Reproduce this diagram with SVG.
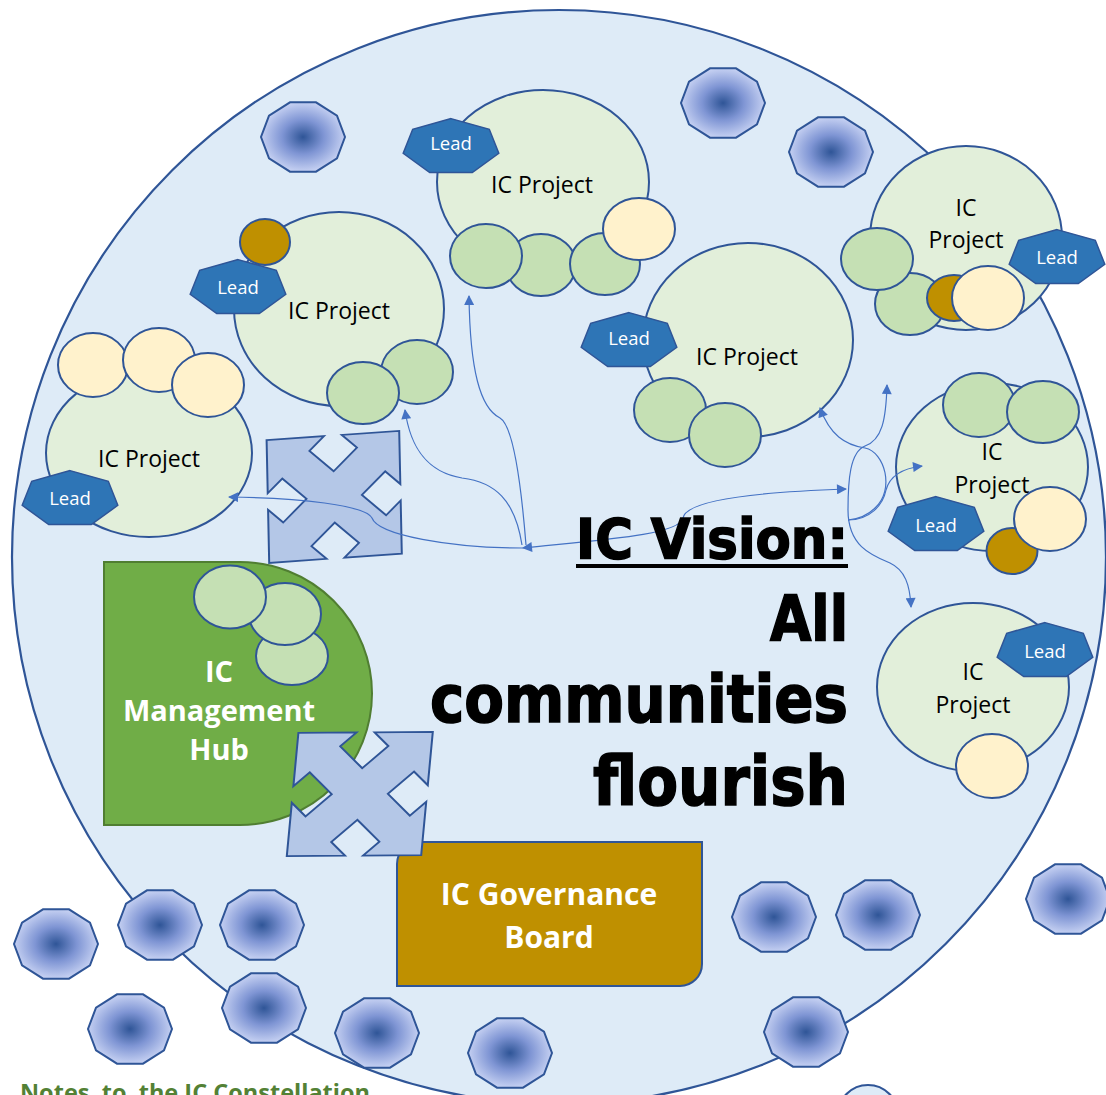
<svg xmlns="http://www.w3.org/2000/svg" xmlns:xlink="http://www.w3.org/1999/xlink" width="1106" height="1095" viewBox="0 0 1106 1095">
<style>
.bg{fill:#DEEBF7;stroke:#2F5597;stroke-width:2.2}
.proj{fill:#E2EFDA;stroke:#2F5597;stroke-width:2}
.grn{fill:#C5E0B4;stroke:#2F5597;stroke-width:2}
.crm{fill:#FFF2CC;stroke:#2F5597;stroke-width:2}
.gold{fill:#BF9000;stroke:#2F5597;stroke-width:2}
.lead{fill:#2E75B6;stroke:#2F5597;stroke-width:1.5}
.deca{fill:url(#rg);stroke:#2F5597;stroke-width:2}
.quad{fill:#B4C7E7;stroke:#2F5597;stroke-width:2}
.conn{fill:none;stroke:#4472C4;stroke-width:1.2}
.ptxt{font-family:"Open Sans","Liberation Sans",sans-serif;font-size:23px;fill:#000;text-anchor:middle}
.ltxt{font-family:"Open Sans","Liberation Sans",sans-serif;font-size:18.5px;fill:#fff;text-anchor:middle}
.btxt{font-family:"Open Sans","Liberation Sans",sans-serif;font-weight:bold;fill:#fff;text-anchor:middle}
.title{font-family:"DejaVu Sans","Liberation Sans",sans-serif;font-weight:bold;fill:#000;stroke:#000;stroke-width:1.6;text-anchor:end}
</style>
<defs>
<radialGradient id="rg" cx="50%" cy="50%" r="55%">
<stop offset="0" stop-color="#2F5597"/>
<stop offset="0.45" stop-color="#7F95D4"/>
<stop offset="1" stop-color="#D3DCF8"/>
</radialGradient>
<polygon id="deca" points="42,0 33.98,21.4 12.98,34.7 -12.98,34.7 -33.98,21.4 -42,0 -33.98,-21.4 -12.98,-34.7 12.98,-34.7 33.98,-21.4"/>
<polygon id="lead" points="0,-28.4 38.3,-17.7 47.8,6.3 21.3,25.6 -21.3,25.6 -47.8,6.3 -38.3,-17.7"/>
<polygon id="quad" points="-67,-67 -9,-67 -24,-52 0,-28 24,-52 9,-67 67,-67 67,-9 52,-24 28,0 52,24 67,9 67,67 9,67 24,52 0,28 -24,52 -9,67 -67,67 -67,9 -52,24 -28,0 -52,-24 -67,-9"/>
<marker id="ah" viewBox="0 0 10 10" refX="9" refY="5" markerWidth="11" markerHeight="10" markerUnits="userSpaceOnUse" orient="auto-start-reverse">
<path d="M0,0 L10,5 L0,10 z" fill="#4472C4"/>
</marker>
</defs>

<rect width="1106" height="1095" fill="#fff"/>
<g id="constellation"><circle class="bg" cx="559" cy="557" r="547"/></g>
<g id="partial-circle"><circle class="bg" cx="868" cy="1115" r="30"/></g>

<g id="stars">
<use href="#deca" class="deca" x="303" y="137"/>
<use href="#deca" class="deca" x="723" y="103"/>
<use href="#deca" class="deca" x="831" y="152"/>
<use href="#deca" class="deca" x="56" y="944"/>
<use href="#deca" class="deca" x="160" y="925"/>
<use href="#deca" class="deca" x="262" y="925"/>
<use href="#deca" class="deca" x="130" y="1029"/>
<use href="#deca" class="deca" x="264" y="1008"/>
<use href="#deca" class="deca" x="377" y="1033"/>
<use href="#deca" class="deca" x="510" y="1053"/>
<use href="#deca" class="deca" x="774" y="917"/>
<use href="#deca" class="deca" x="878" y="915"/>
<use href="#deca" class="deca" x="1068" y="899"/>
<use href="#deca" class="deca" x="806" y="1032"/>
</g>

<g id="project-top">
<ellipse class="proj" cx="543" cy="182" rx="106" ry="92"/>
<text class="ptxt" x="542" y="193">IC Project</text>
<ellipse class="grn" cx="541" cy="265" rx="35" ry="31"/>
<ellipse class="grn" cx="486" cy="256" rx="36" ry="32"/>
<ellipse class="grn" cx="605" cy="264" rx="35" ry="31"/>
<ellipse class="crm" cx="639" cy="229" rx="36" ry="31"/>
<use href="#lead" class="lead" x="451" y="147"/>
<text class="ltxt" x="451" y="150">Lead</text>
</g>

<g id="project-upper-left">
<ellipse class="proj" cx="339" cy="309" rx="105" ry="97"/>
<text class="ptxt" x="339" y="319">IC Project</text>
<ellipse class="gold" cx="265" cy="242" rx="25" ry="23"/>
<use href="#lead" class="lead" x="238" y="288"/>
<text class="ltxt" x="238" y="294">Lead</text>
<ellipse class="grn" cx="417" cy="372" rx="36" ry="32"/>
<ellipse class="grn" cx="363" cy="393" rx="36" ry="31"/>
</g>

<g id="project-left">
<ellipse class="proj" cx="149" cy="453" rx="103" ry="84"/>
<text class="ptxt" x="149" y="467">IC Project</text>
<ellipse class="crm" cx="93" cy="365" rx="35" ry="32"/>
<ellipse class="crm" cx="159" cy="360" rx="36" ry="32"/>
<ellipse class="crm" cx="208" cy="385" rx="36" ry="32"/>
<use href="#lead" class="lead" x="70" y="499"/>
<text class="ltxt" x="70" y="505">Lead</text>
</g>

<g id="project-middle">
<ellipse class="proj" cx="748" cy="340" rx="105" ry="97"/>
<text class="ptxt" x="747" y="365">IC Project</text>
<ellipse class="grn" cx="670" cy="410" rx="36" ry="32"/>
<ellipse class="grn" cx="725" cy="435" rx="36" ry="32"/>
<use href="#lead" class="lead" x="629" y="341"/>
<text class="ltxt" x="629" y="345">Lead</text>
</g>

<g id="project-top-right">
<ellipse class="proj" cx="966" cy="238" rx="96" ry="92"/>
<text class="ptxt" x="966" y="216">IC</text>
<text class="ptxt" x="966" y="248">Project</text>
<ellipse class="grn" cx="910" cy="304" rx="35" ry="31"/>
<ellipse class="grn" cx="877" cy="259" rx="36" ry="31"/>
<ellipse class="gold" cx="954" cy="298" rx="27" ry="23"/>
<use href="#lead" class="lead" x="1057" y="258"/>
<text class="ltxt" x="1057" y="264">Lead</text>
<ellipse class="crm" cx="988" cy="298" rx="36" ry="32"/>
</g>

<g id="project-right">
<ellipse class="proj" cx="992" cy="467" rx="96" ry="84"/>
<ellipse class="grn" cx="979" cy="405" rx="36" ry="32"/>
<ellipse class="grn" cx="1043" cy="412" rx="36" ry="31"/>
<text class="ptxt" x="992" y="460">IC</text>
<text class="ptxt" x="992" y="493">Project</text>
<use href="#lead" class="lead" x="936" y="525"/>
<text class="ltxt" x="936" y="532">Lead</text>
<ellipse class="gold" cx="1012" cy="551" rx="25.5" ry="23"/>
<ellipse class="crm" cx="1050" cy="519" rx="36" ry="32"/>
</g>

<g id="project-bottom-right">
<ellipse class="proj" cx="973" cy="687" rx="96" ry="84"/>
<text class="ptxt" x="973" y="680">IC</text>
<text class="ptxt" x="973" y="713">Project</text>
<use href="#lead" class="lead" x="1045" y="651"/>
<text class="ltxt" x="1045" y="658">Lead</text>
<ellipse class="crm" cx="992" cy="766" rx="36" ry="32"/>
</g>

<g id="management-hub">
<path d="M104,562 H240 A132,131.5 0 0 1 240,825 H104 Z" fill="#70AD47" stroke="#507E32" stroke-width="2"/>
<ellipse class="grn" cx="292" cy="656" rx="36" ry="29"/>
<ellipse class="grn" cx="285" cy="614" rx="36" ry="31"/>
<ellipse class="grn" cx="230" cy="597" rx="36" ry="31.5"/>
<text class="btxt" font-size="29" x="219" y="682">IC</text>
<text class="btxt" font-size="29" x="219" y="721">Management</text>
<text class="btxt" font-size="29" x="219" y="760">Hub</text>
</g>

<g id="governance-board">
<path d="M419,842 H702 V964 A22,22 0 0 1 680,986 H397 V864 A22,22 0 0 1 419,842 Z" fill="#BF9000" stroke="#2F5597" stroke-width="2"/>
<text class="btxt" font-size="30" x="549" y="905">IC Governance</text>
<text class="btxt" font-size="30" x="549" y="948">Board</text>
</g>

<g id="quad-arrow-1">
<use href="#quad" class="quad" vector-effect="non-scaling-stroke" transform="matrix(0.9896,-0.0694,0.0194,0.9157,334.2,496.9)"/>
</g>
<g id="quad-arrow-2">
<use href="#quad" class="quad" vector-effect="non-scaling-stroke" transform="matrix(1.003,-0.0075,-0.0866,0.920,359.8,794)"/>
</g>

<g id="connectors">
<path class="conn" marker-end="url(#ah)" d="M526,545 C520,470 512,425 500,418 C480,408 470,370 469,296"/>
<path class="conn" marker-end="url(#ah)" d="M522,545 C515,500 495,482 462,478 C425,472 410,445 405,410"/>
<path class="conn" marker-start="url(#ah)" d="M229,497 C300,498 365,505 372,518 C378,535 450,548 523,548"/>
<path class="conn" marker-start="url(#ah)" marker-end="url(#ah)" d="M523,548 C600,540 680,535 683,518 C686,500 760,492 846,489"/>
<path class="conn" marker-start="url(#ah)" d="M820,408 C830,435 845,445 865,448 C885,452 895,490 875,508 C868,515 858,519 848,520"/>
<path class="conn" marker-end="url(#ah)" d="M848,520 C870,520 883,505 886,490 C890,475 905,468 922,466"/>
<path class="conn" marker-start="url(#ah)" marker-end="url(#ah)" d="M887,385 C886,420 882,440 865,446 C850,452 848,480 848,510 C848,545 870,555 890,563 C905,570 910,585 911,607"/>
</g>

<g id="vision-title">
<text class="title" x="848" y="558" font-size="56" textLength="272" lengthAdjust="spacingAndGlyphs">IC Vision:</text>
<rect x="576" y="564" width="272" height="4" fill="#000"/>
<text class="title" x="848" y="640" font-size="62" textLength="78" lengthAdjust="spacingAndGlyphs">All</text>
<text class="title" x="848" y="722" font-size="66" textLength="418" lengthAdjust="spacingAndGlyphs">communities</text>
<text class="title" x="848" y="805" font-size="68" textLength="255" lengthAdjust="spacingAndGlyphs">flourish</text>
</g>

<g id="notes">
<text x="20" y="1101" font-family="Open Sans, Liberation Sans, sans-serif" font-weight="bold" font-size="24" fill="#538135" style="white-space:pre" textLength="350" lengthAdjust="spacingAndGlyphs">Notes  to  the IC Constellation</text>
</g>
</svg>
